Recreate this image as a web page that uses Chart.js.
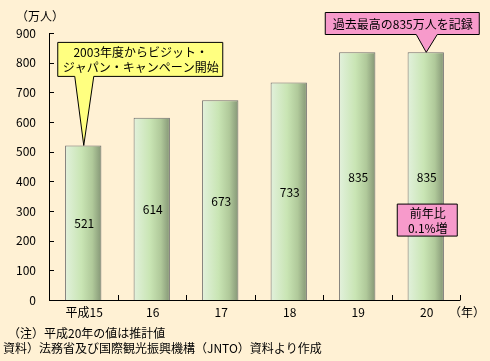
<!DOCTYPE html>
<html lang="ja">
<head>
<meta charset="utf-8">
<script src="https://cdn.jsdelivr.net/npm/chart.js@4.4.1/dist/chart.umd.min.js"></script>
<style>
  html, body { margin: 0; padding: 0; background: #fff1d4; }
  #wrap { position: relative; width: 490px; height: 361px; }
</style>
</head>
<body>
<div id="wrap"><canvas id="chartVisitors" width="490" height="361"></canvas></div>
<script>
'use strict';

var years = ['平成15', '16', '17', '18', '19', '20'];
var visitors = [521, 614, 673, 733, 835, 835];
var yTicks = [0, 100, 200, 300, 400, 500, 600, 700, 800, 900];
var notes = ['（注）平成20年の値は推計値', '資料）法務省及び国際観光振興機構（JNTO）資料より作成'];
var calloutCampaign = ['2003年度からビジット・', 'ジャパン・キャンペーン開始'];
var calloutRecord = ['過去最高の835万人を記録'];
var calloutGrowth = ['前年比', '0.1%増'];

var FONT = '"Noto Sans CJK JP", "DejaVu Sans", sans-serif';

var barFill = function (context) {
  var chart = context.chart;
  var x = chart.scales.x;
  if (!chart.chartArea || !x) return '#c8e4b0';
  var cx = x.getPixelForValue(context.dataIndex);
  var w = (x.width / years.length) * 0.53;
  var g = chart.ctx.createLinearGradient(cx - w / 2, 0, cx + w / 2, 0);
  g.addColorStop(0, '#e2f1dc');
  g.addColorStop(0.45, '#c9e5b4');
  g.addColorStop(0.75, '#b0c99a');
  g.addColorStop(1, '#859676');
  return g;
};

function drawBox(ctx, left, top, w, h, fill, lines, tip, baseL, baseR) {
  ctx.save();
  ctx.fillStyle = fill;
  ctx.strokeStyle = '#000';
  ctx.lineWidth = 1;
  ctx.beginPath();
  ctx.moveTo(left + 0.5, top + 0.5);
  ctx.lineTo(left + w + 0.5, top + 0.5);
  ctx.lineTo(left + w + 0.5, top + h + 0.5);
  if (tip) {
    ctx.lineTo(baseR + 0.5, top + h + 0.5);
    ctx.lineTo(tip.x + 0.5, tip.y);
    ctx.lineTo(baseL + 0.5, top + h + 0.5);
  }
  ctx.lineTo(left + 0.5, top + h + 0.5);
  ctx.closePath();
  ctx.fill();
  ctx.stroke();
  ctx.fillStyle = '#000';
  ctx.font = '12px ' + FONT;
  ctx.textAlign = 'center';
  ctx.textBaseline = 'middle';
  var lh = 15;
  var y0 = top + h / 2 - (lines.length - 1) * lh / 2;
  lines.forEach(function (t, i) { ctx.fillText(t, left + w / 2 + 1, y0 + i * lh + 1); });
  ctx.restore();
}

var decorations = {
  id: 'decorations',
  afterDraw: function (chart) {
    var ctx = chart.ctx;
    var x = chart.scales.x;
    var y = chart.scales.y;
    var area = chart.chartArea;
    ctx.save();
    ctx.strokeStyle = '#000';
    ctx.lineWidth = 1;
    // axes
    ctx.beginPath();
    ctx.moveTo(area.left + 0.5, area.top);
    ctx.lineTo(area.left + 0.5, area.bottom + 0.5);
    ctx.lineTo(area.right + 0.5, area.bottom + 0.5);
    // y ticks pointing inward
    yTicks.forEach(function (v) {
      var py = Math.round(y.getPixelForValue(v)) + 0.5;
      ctx.moveTo(area.left, py);
      ctx.lineTo(area.left + 5, py);
    });
    // x ticks at category boundaries, pointing up
    var step = x.width / years.length;
    for (var i = 1; i <= years.length; i++) {
      var px = Math.round(area.left + step * i) + 0.5;
      ctx.moveTo(px, area.bottom);
      ctx.lineTo(px, area.bottom - 5);
    }
    ctx.stroke();

    ctx.fillStyle = '#000';
    ctx.font = '12px ' + FONT;
    ctx.textBaseline = 'middle';
    ctx.textAlign = 'left';
    ctx.fillText('（万人）', area.left - 33, area.top - 17);
    ctx.fillText('（年）', area.right - 11, area.bottom + 12);
    ctx.fillText(notes[0], 8, 333);
    ctx.fillText(notes[1], 3, 348);

    ctx.textAlign = 'center';
    // category labels
    years.forEach(function (lab, i) {
      ctx.fillText(lab, x.getPixelForValue(i) + 1, area.bottom + 12);
    });
    // value labels in the middle of each bar
    visitors.forEach(function (v, i) {
      var cx = x.getPixelForValue(i);
      var mid = (y.getPixelForValue(v) + y.getPixelForValue(0)) / 2;
      ctx.fillText(String(v), cx + 1, mid + 1);
    });
    ctx.restore();

    // callouts anchored to bar tops
    var t0 = { x: x.getPixelForValue(0), y: y.getPixelForValue(visitors[0]) };
    drawBox(ctx, t0.x - 26, y.getPixelForValue(870), 165, 34, '#ffff80', calloutCampaign, t0, t0.x - 9, t0.x + 10);
    var t5 = { x: x.getPixelForValue(5), y: y.getPixelForValue(visitors[5]) };
    drawBox(ctx, t5.x - 101, area.top - 21, 154, 22, '#f79acb', calloutRecord, t5, t5.x - 10, t5.x + 11);
    drawBox(ctx, t5.x - 29, y.getPixelForValue(325), 60, 32, '#f79acb', calloutGrowth, null);
  }
};

new Chart(document.getElementById('chartVisitors').getContext('2d'), {
  type: 'bar',
  data: {
    labels: years,
    datasets: [{
      data: visitors,
      backgroundColor: barFill,
      borderColor: '#6e6e6e',
      borderWidth: 1,
      borderSkipped: 'bottom',
      categoryPercentage: 1,
      barPercentage: 0.53
    }]
  },
  options: {
    animation: false,
    responsive: false,
    layout: { padding: { top: 33, right: 30, left: 0, bottom: 0 } },
    plugins: { legend: { display: false }, tooltip: { enabled: false } },
    scales: {
      x: {
        grid: { display: false },
        border: { display: false },
        ticks: { display: false },
        afterFit: function (s) { s.height = 61; }
      },
      y: {
        min: 0,
        max: 900,
        grid: { display: false },
        border: { display: false },
        ticks: { stepSize: 100, color: '#000', font: { family: FONT, size: 12 }, padding: 5 },
        afterFit: function (s) { s.width = 49; }
      }
    }
  },
  plugins: [decorations]
});
</script>
</body>
</html>
